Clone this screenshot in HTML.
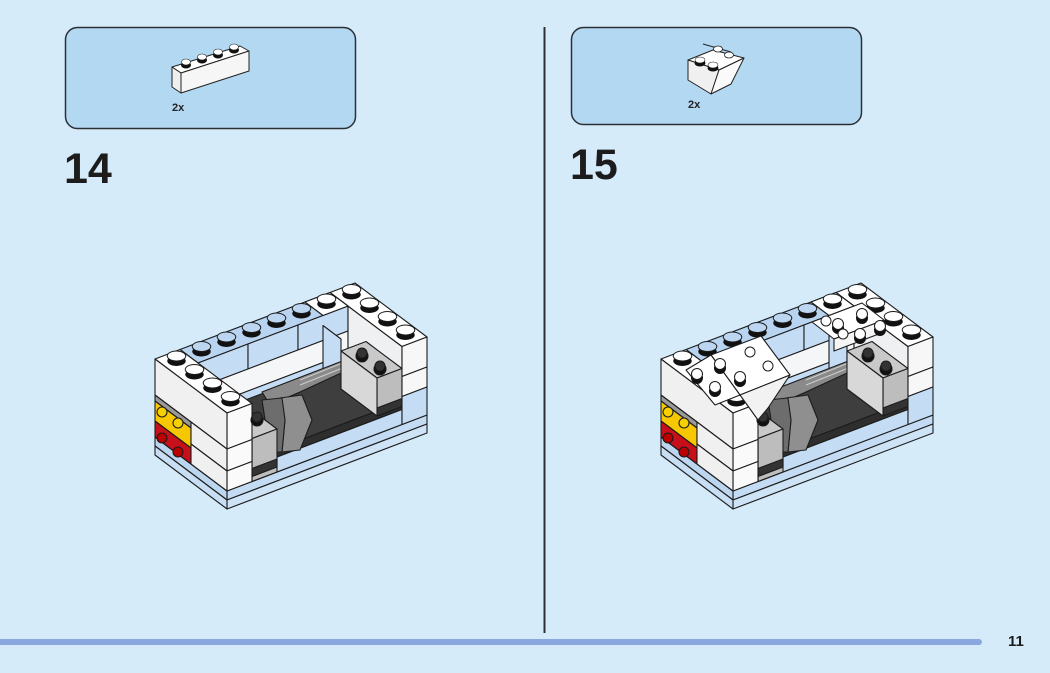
<!DOCTYPE html>
<html><head><meta charset="utf-8"><style>
html,body{margin:0;padding:0;background:#d5ebfa;}
svg{display:block;}
text{font-family:"Liberation Sans",sans-serif;}
</style></head><body>
<svg width="1050" height="673" viewBox="0 0 1050 673" xmlns="http://www.w3.org/2000/svg">
<rect width="1050" height="673" fill="#d5ebfa"/>
<rect x="65.5" y="27.5" width="290" height="101" rx="12" fill="#b3d8f2" stroke="#2c3035" stroke-width="1.5"/>
<rect x="571.5" y="27.5" width="290" height="97" rx="12" fill="#b3d8f2" stroke="#2c3035" stroke-width="1.5"/>
<g stroke="#222" stroke-width="1" stroke-linejoin="round">
<polygon points="172,67 240,46 249,51 181,73" fill="#fff"/>
<polygon points="172,67 181,73 181,93 172,87" fill="#eee"/>
<polygon points="181,73 249,51 249,71 181,93" fill="#f6f6f6"/>
</g>
<g fill="#111">
<ellipse cx="186" cy="65" rx="5" ry="3.5"/><ellipse cx="202" cy="60" rx="5" ry="3.5"/><ellipse cx="218" cy="55" rx="5" ry="3.5"/><ellipse cx="234" cy="50" rx="5" ry="3.5"/>
</g>
<g fill="#fff" stroke="#222" stroke-width=".6">
<ellipse cx="186" cy="62" rx="4.5" ry="3"/><ellipse cx="202" cy="57" rx="4.5" ry="3"/><ellipse cx="218" cy="52" rx="4.5" ry="3"/><ellipse cx="234" cy="47" rx="4.5" ry="3"/>
</g>
<text x="172" y="111" font-size="11" font-weight="bold" fill="#222">2x</text>
<g stroke="#222" stroke-width="1" stroke-linejoin="round">
<polygon points="688,60 713,50 744,58 719,70" fill="#fff"/>
<polygon points="688,60 719,70 711,94 688,80" fill="#f0f0f0"/>
<polygon points="719,70 744,58 731,84 711,94" fill="#fafafa"/>
<line x1="703" y1="44" x2="731" y2="52"/>
</g>
<ellipse cx="700" cy="63" rx="5.5" ry="3.5" fill="#111"/><ellipse cx="700" cy="60" rx="5" ry="3" fill="#fff" stroke="#222" stroke-width=".6"/>
<ellipse cx="713" cy="68" rx="5.5" ry="3.5" fill="#111"/><ellipse cx="713" cy="65" rx="5" ry="3" fill="#fff" stroke="#222" stroke-width=".6"/>
<ellipse cx="718" cy="49" rx="4.5" ry="3" fill="#fff" stroke="#222" stroke-width=".8"/>
<ellipse cx="729" cy="55" rx="4.5" ry="3" fill="#fff" stroke="#222" stroke-width=".8"/>
<text x="688" y="108" font-size="11" font-weight="bold" fill="#222">2x</text>
<text x="64" y="183" font-size="43" font-weight="bold" fill="#1c1c1c">14</text>
<text x="570" y="179" font-size="43" font-weight="bold" fill="#1c1c1c">15</text>
<line x1="544.5" y1="27" x2="544.5" y2="633" stroke="#2c3035" stroke-width="2"/>
<line x1="0" y1="642" x2="979" y2="642" stroke="#8aa8df" stroke-width="6" stroke-linecap="round"/>
<text x="1008" y="646" font-size="15" font-weight="bold" fill="#1c1c1c">11</text>

<defs>
<g id="m14" stroke="#1c1c1c" stroke-width="1.1" stroke-linejoin="round">
 <g transform="matrix(25,-9.5,18,13.5,155,437)"><rect x="0" y="0" width="8" height="4" fill="#c3dbf3" vector-effect="non-scaling-stroke"/></g>
 <g transform="matrix(25,-9.5,0,1,227,413)"><rect x="0" y="78" width="8" height="9" fill="#c3dbf3" vector-effect="non-scaling-stroke"/><rect x="0" y="87" width="8" height="9" fill="#cfe3f7" vector-effect="non-scaling-stroke"/></g>
 <g transform="matrix(18,13.5,0,1,155,359)"><rect x="0" y="78" width="4" height="9" fill="#bcd6f0" vector-effect="non-scaling-stroke"/><rect x="0" y="87" width="4" height="9" fill="#c8def4" vector-effect="non-scaling-stroke"/></g>
 <g transform="matrix(25,-9.5,18,13.5,155,359)"><rect x="1" y="0" width="6" height="1" fill="#b8d4f0" vector-effect="non-scaling-stroke"/></g>
 <g transform="matrix(25,-9.5,0,1,173,372.5)">
  <rect x="1" y="0" width="2" height="25" fill="#c4dcf4" vector-effect="non-scaling-stroke"/>
  <rect x="3" y="0" width="2" height="25" fill="#c4dcf4" vector-effect="non-scaling-stroke"/>
  <rect x="5" y="0" width="2" height="25" fill="#c4dcf4" vector-effect="non-scaling-stroke"/>
  <rect x="1" y="25" width="6" height="22" fill="#f4f6f8" vector-effect="non-scaling-stroke"/>
  <rect x="1" y="47" width="6" height="31" fill="#c4dcf4" vector-effect="non-scaling-stroke"/>
 </g>
 <g transform="matrix(18,13.5,0,1,330,292.5)"><rect x="1" y="0" width="3" height="78" fill="#eef0f2" vector-effect="non-scaling-stroke"/></g>
 <g transform="matrix(18,13.5,0,1,305,302)"><rect x="1" y="10" width="1" height="50" fill="#c4dcf4" vector-effect="non-scaling-stroke"/></g>
 <g transform="matrix(25,-9.5,18,13.5,155,414)"><rect x="1" y="1" width="6" height="3" fill="#3e3e3e" vector-effect="non-scaling-stroke"/></g>
 <g transform="matrix(25,-9.5,0,1,227,413)"><rect x="1" y="55" width="6" height="8" fill="#2e2e2e" vector-effect="non-scaling-stroke"/><rect x="1" y="63" width="6" height="15" fill="#c4dcf4" vector-effect="non-scaling-stroke"/></g>
 <polygon points="262,392 345,360 352,368 300,392 270,405" fill="#8a8a8a"/>
 <polyline points="300,385 345,367" fill="none" stroke="#ccc"/>
 <polyline points="300,380 345,362" fill="none" stroke="#ccc"/>
 <polygon points="280,398 302,395 312,420 300,450 282,452 285,420" fill="#8f8f8f"/>
 <polygon points="262,400 282,398 285,420 282,452 270,452" fill="#6d6d6d"/>
 <!-- grey block right: u6..7 d2..4 -->
 <g transform="matrix(25,-9.5,18,13.5,155,381)"><rect x="6" y="2" width="1" height="2" fill="#c9c9c9" vector-effect="non-scaling-stroke"/></g>
 <g transform="matrix(25,-9.5,0,1,227,413)"><rect x="6" y="22" width="1" height="38" fill="#bdbdbd" vector-effect="non-scaling-stroke"/><rect x="6" y="52" width="1" height="8" fill="#333" vector-effect="non-scaling-stroke"/></g>
 <g transform="matrix(18,13.5,0,1,305,302)"><rect x="2" y="22" width="2" height="38" fill="#d8d8d8" vector-effect="non-scaling-stroke"/></g>
 <g transform="matrix(25,-9.5,18,13.5,155,394)"><rect x="1" y="3" width="1" height="1" fill="#c9c9c9" vector-effect="non-scaling-stroke"/></g>
 <g transform="matrix(25,-9.5,0,1,227,413)"><rect x="1" y="35" width="1" height="43" fill="#bdbdbd" vector-effect="non-scaling-stroke"/><rect x="1" y="65" width="1" height="8" fill="#333" vector-effect="non-scaling-stroke"/></g>
 <g transform="matrix(18,13.5,0,1,180,349.5)"><rect x="3" y="35" width="1" height="43" fill="#d8d8d8" vector-effect="non-scaling-stroke"/></g>
 <g transform="matrix(25,-9.5,18,13.5,155,359)"><rect x="7" y="0" width="1" height="4" fill="#fff" vector-effect="non-scaling-stroke"/><rect x="6" y="0" width="1" height="1" fill="#fff" vector-effect="non-scaling-stroke"/></g>
 <g transform="matrix(25,-9.5,0,1,227,413)"><rect x="7" y="0" width="1" height="30" fill="#f7f7f7" vector-effect="non-scaling-stroke"/><rect x="7" y="30" width="1" height="20" fill="#f7f7f7" vector-effect="non-scaling-stroke"/><rect x="7" y="50" width="1" height="28" fill="#c4dcf4" vector-effect="non-scaling-stroke"/></g>
 <g transform="matrix(25,-9.5,18,13.5,155,359)"><rect x="0" y="0" width="1" height="4" fill="#fff" vector-effect="non-scaling-stroke"/></g>
 <g transform="matrix(25,-9.5,0,1,227,413)"><rect x="0" y="0" width="1" height="36" fill="#fafafa" vector-effect="non-scaling-stroke"/><rect x="0" y="36" width="1" height="22" fill="#fafafa" vector-effect="non-scaling-stroke"/><rect x="0" y="58" width="1" height="20" fill="#fafafa" vector-effect="non-scaling-stroke"/></g>
 <g transform="matrix(18,13.5,0,1,155,359)">
  <rect x="0" y="0" width="4" height="36" fill="#f0f0f0" vector-effect="non-scaling-stroke"/>
  <rect x="0" y="36" width="2" height="6" fill="#9a9a9a" vector-effect="non-scaling-stroke"/>
  <rect x="0" y="42" width="2" height="20" fill="#f7c800" vector-effect="non-scaling-stroke"/>
  <rect x="0" y="62" width="2" height="16" fill="#c8101a" vector-effect="non-scaling-stroke"/>
  <rect x="2" y="36" width="2" height="22" fill="#f0f0f0" vector-effect="non-scaling-stroke"/>
  <rect x="2" y="58" width="2" height="20" fill="#f0f0f0" vector-effect="non-scaling-stroke"/>
 </g>
 <circle cx="162" cy="412" r="5" fill="#f7d000"/><circle cx="178" cy="423" r="5" fill="#f7d000"/>
 <circle cx="162" cy="438" r="5" fill="#b00"/><circle cx="178" cy="452" r="5" fill="#b00"/>
 <g transform="matrix(25,-9.5,18,13.5,155,359)" fill="#111" stroke="none">
  <circle cx="0.5" cy="0.5" r=".3"/><circle cx="0.5" cy="1.5" r=".3"/><circle cx="0.5" cy="2.5" r=".3"/><circle cx="0.5" cy="3.5" r=".3"/>
  <circle cx="1.5" cy="0.5" r=".3"/><circle cx="2.5" cy="0.5" r=".3"/><circle cx="3.5" cy="0.5" r=".3"/><circle cx="4.5" cy="0.5" r=".3"/><circle cx="5.5" cy="0.5" r=".3"/><circle cx="6.5" cy="0.5" r=".3"/>
  <circle cx="7.5" cy="0.5" r=".3"/><circle cx="7.5" cy="1.5" r=".3"/><circle cx="7.5" cy="2.5" r=".3"/><circle cx="7.5" cy="3.5" r=".3"/>
 </g>
 <g transform="translate(0,-5) matrix(25,-9.5,18,13.5,155,359)" stroke-width="1">
  <g fill="#fff"><circle cx="0.5" cy="0.5" r=".3" vector-effect="non-scaling-stroke"/><circle cx="0.5" cy="1.5" r=".3" vector-effect="non-scaling-stroke"/><circle cx="0.5" cy="2.5" r=".3" vector-effect="non-scaling-stroke"/><circle cx="0.5" cy="3.5" r=".3" vector-effect="non-scaling-stroke"/>
  <circle cx="7.5" cy="0.5" r=".3" vector-effect="non-scaling-stroke"/><circle cx="7.5" cy="1.5" r=".3" vector-effect="non-scaling-stroke"/><circle cx="7.5" cy="2.5" r=".3" vector-effect="non-scaling-stroke"/><circle cx="7.5" cy="3.5" r=".3" vector-effect="non-scaling-stroke"/><circle cx="6.5" cy="0.5" r=".3" vector-effect="non-scaling-stroke"/></g>
  <g fill="#bcd6f2"><circle cx="1.5" cy="0.5" r=".3" vector-effect="non-scaling-stroke"/><circle cx="2.5" cy="0.5" r=".3" vector-effect="non-scaling-stroke"/><circle cx="3.5" cy="0.5" r=".3" vector-effect="non-scaling-stroke"/><circle cx="4.5" cy="0.5" r=".3" vector-effect="non-scaling-stroke"/><circle cx="5.5" cy="0.5" r=".3" vector-effect="non-scaling-stroke"/></g>
 </g>
 <circle cx="257" cy="420" r="6" fill="#111"/><circle cx="257" cy="417" r="5" fill="#333"/>
 <circle cx="362" cy="356" r="6" fill="#111"/><circle cx="362" cy="353" r="5" fill="#333"/>
 <circle cx="380" cy="369" r="6" fill="#111"/><circle cx="380" cy="366" r="5" fill="#333"/>
</g>
</defs>

<use href="#m14"/>
<use href="#m14" transform="translate(506,0)"/>

<g stroke="#1c1c1c" stroke-width="1.1" stroke-linejoin="round">
 <polygon points="711,355 761,336 790,375 740,395" fill="#fff"/>
 <polygon points="740,395 790,375 768,408 758,420" fill="#f2f2f2"/>
 <polygon points="686,370 711,355 740,395 715,405" fill="#fff"/>
 <polygon points="812,322 862,303 884,320 834,339" fill="#fff"/>
 <polygon points="834,339 884,320 884,332 834,351" fill="#f5f5f5"/>
</g>
<g fill="#111">
 <circle cx="697" cy="378" r="6"/><circle cx="715" cy="391" r="6"/><circle cx="720" cy="368" r="6"/><circle cx="740" cy="381" r="6"/>
 <circle cx="838" cy="328" r="6"/><circle cx="860" cy="338" r="6"/><circle cx="862" cy="318" r="6"/><circle cx="880" cy="330" r="6"/>
</g>
<g fill="#fff" stroke="#1c1c1c" stroke-width="1">
 <circle cx="697" cy="374" r="5.5"/><circle cx="715" cy="387" r="5.5"/><circle cx="720" cy="364" r="5.5"/><circle cx="740" cy="377" r="5.5"/>
 <circle cx="838" cy="324" r="5.5"/><circle cx="860" cy="334" r="5.5"/><circle cx="862" cy="314" r="5.5"/><circle cx="880" cy="326" r="5.5"/>
 <circle cx="750" cy="352" r="5"/><circle cx="768" cy="366" r="5"/><circle cx="826" cy="321" r="5"/><circle cx="843" cy="334" r="5"/>
</g>
</svg>
</body></html>
